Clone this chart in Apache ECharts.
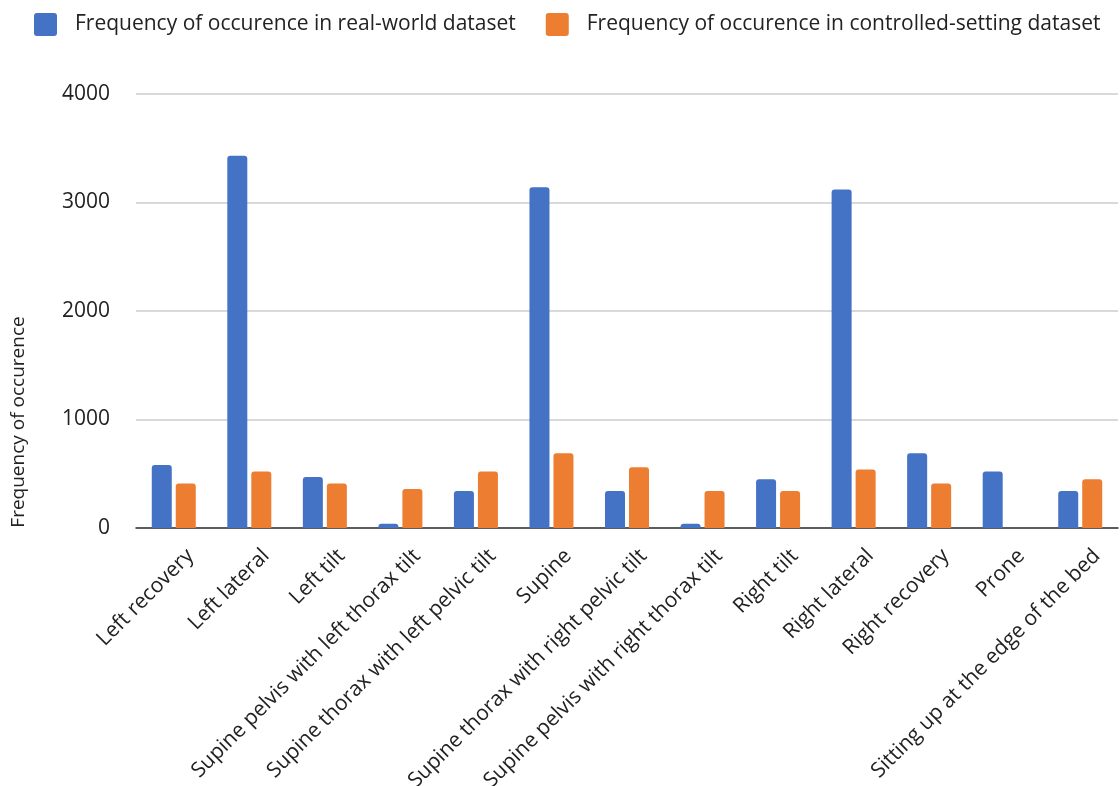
<!DOCTYPE html>
<html>
<head>
<meta charset="utf-8">
<script src="https://cdn.jsdelivr.net/npm/echarts@6/dist/echarts.min.js"></script>
<style>html,body{margin:0;padding:0;background:#fff;}#c{width:1120px;height:786px;}</style>
</head>
<body>
<div id="c"></div>
<script>
const categories = ["Left recovery","Left lateral","Left tilt","Supine pelvis with left thorax tilt","Supine thorax with left pelvic tilt","Supine","Supine thorax with right pelvic tilt","Supine pelvis with right thorax tilt","Right tilt","Right lateral","Right recovery","Prone","Sitting up at the edge of the bed"];
const realWorld = [580,3430,470,40,340,3140,340,40,450,3120,690,520,340];
const controlled = [410,520,410,360,520,690,560,340,340,540,410,0,450];
const seriesNames = ["Frequency of occurence in real-world dataset","Frequency of occurence in controlled-setting dataset"];
const yTicks = {min:0,max:4000,interval:1000};
const yTitle = "Frequency of occurence";

const FONT = 'Open Sans';
const ICON = 'path://M3,0 H20 Q23,0 23,3 V20 Q23,23 20,23 H3 Q0,23 0,20 V3 Q0,0 3,0 Z';
const chart = echarts.init(document.getElementById('c'));
chart.setOption({
  animation:false,
  textStyle:{fontFamily:FONT},
  legend:{left:29,top:8,itemWidth:23,itemHeight:23,itemGap:30,icon:ICON,
    textStyle:{fontSize:21,color:'#222',fontFamily:FONT,padding:[0,0,0,13]}},
  grid:{left:136,right:2,top:94,bottom:258,outerBoundsMode:'none',containLabel:false},
  xAxis:{type:'category',data:categories,
    axisLine:{lineStyle:{color:'#333',width:1.5}},
    axisTick:{show:false},
    axisLabel:{rotate:45,interval:0,fontSize:21,color:'#222',margin:8,fontFamily:FONT,
      verticalAlign:'top',padding:[13,0,0,0]}},
  yAxis:{type:'value',min:yTicks.min,max:yTicks.max,interval:yTicks.interval,
    axisLine:{show:false},axisTick:{show:false},
    splitLine:{lineStyle:{color:'#cccccc',width:1.5}},
    axisLabel:{fontSize:21,color:'#222',margin:26,fontFamily:FONT,formatter:function(v){return String(v);}}},
  graphic:[{type:'text',x:19,y:422,rotation:Math.PI/2,
    style:{text:yTitle,fontSize:19,fill:'#222',fontFamily:FONT,align:'center',verticalAlign:'middle'}}],
  series:[
    {name:seriesNames[0],type:'bar',data:realWorld,barWidth:20,barGap:'20%',
     itemStyle:{color:'#4472C4',borderRadius:[3,3,0,0]}},
    {name:seriesNames[1],type:'bar',data:controlled,barWidth:20,barGap:'20%',
     itemStyle:{color:'#ED7D31',borderRadius:[3,3,0,0]}}
  ]
});
</script>
</body>
</html>
